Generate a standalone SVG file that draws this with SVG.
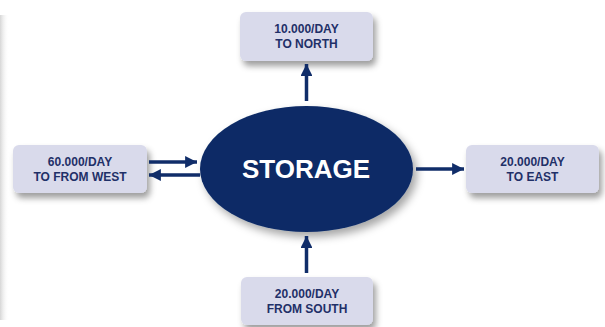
<svg xmlns="http://www.w3.org/2000/svg" width="605" height="327" viewBox="0 0 605 327">
<defs>
<filter id="sh" x="-20%" y="-20%" width="150%" height="160%">
<feDropShadow dx="3" dy="5" stdDeviation="3" flood-color="#000" flood-opacity="0.38"/>
</filter>
<filter id="esh" x="-20%" y="-20%" width="150%" height="150%">
<feDropShadow dx="4" dy="5" stdDeviation="4" flood-color="#000" flood-opacity="0.35"/>
</filter>
<linearGradient id="edge" x1="0" y1="0" x2="1" y2="0">
<stop offset="0" stop-color="#d6d6d6"/>
<stop offset="1" stop-color="#fff" stop-opacity="0"/>
</linearGradient>
<marker id="ah" viewBox="0 0 10 10" refX="10" refY="5" markerWidth="3.4" markerHeight="3.4" orient="auto" markerUnits="strokeWidth">
<path d="M0,0 L10,5 L0,10 Z" fill="#102d69"/>
</marker>
<style>
.box{fill:#d9daeb;filter:url(#sh)}
.lbl{font-family:"Liberation Sans",Arial,sans-serif;font-weight:bold;font-size:12px;fill:#1f3068;text-anchor:middle}
.con{stroke:#102d69;stroke-width:3.5;fill:none;marker-end:url(#ah)}
</style>
</defs>
<rect width="605" height="327" fill="#fff"/>
<rect x="0" y="15" width="9" height="305" fill="url(#edge)"/>
<g id="storage">
<ellipse cx="306.5" cy="169" rx="106.5" ry="63" fill="#0c2c66" filter="url(#esh)"/>
<text x="306" y="178" font-family="'Liberation Sans',Arial,sans-serif" font-weight="bold" font-size="26" fill="#fff" text-anchor="middle">STORAGE</text>
</g>
<g id="north">
<rect class="box" x="240" y="12" width="133" height="49" rx="6"/>
<text class="lbl" x="306.5" y="33">10.000/DAY</text>
<text class="lbl" x="306.5" y="48">TO NORTH</text>
</g>
<g id="west">
<rect class="box" x="13" y="145" width="134" height="48" rx="6"/>
<text class="lbl" x="80" y="166">60.000/DAY</text>
<text class="lbl" x="80" y="181">TO FROM WEST</text>
</g>
<g id="east">
<rect class="box" x="466" y="145" width="133" height="48" rx="6"/>
<text class="lbl" x="532.5" y="166">20.000/DAY</text>
<text class="lbl" x="532.5" y="181">TO EAST</text>
</g>
<g id="south">
<rect class="box" x="241" y="277" width="132" height="48" rx="6"/>
<text class="lbl" x="307" y="298">20.000/DAY</text>
<text class="lbl" x="307" y="313">FROM SOUTH</text>
</g>
<g id="connectors">
<line class="con" x1="306.5" y1="101" x2="306.5" y2="64"/>
<line class="con" x1="306.5" y1="273" x2="306.5" y2="236"/>
<line class="con" x1="416" y1="169" x2="464" y2="169"/>
<line class="con" x1="149" y1="162" x2="197" y2="162"/>
<line class="con" x1="200" y1="175" x2="149" y2="175"/>
</g>
</svg>
